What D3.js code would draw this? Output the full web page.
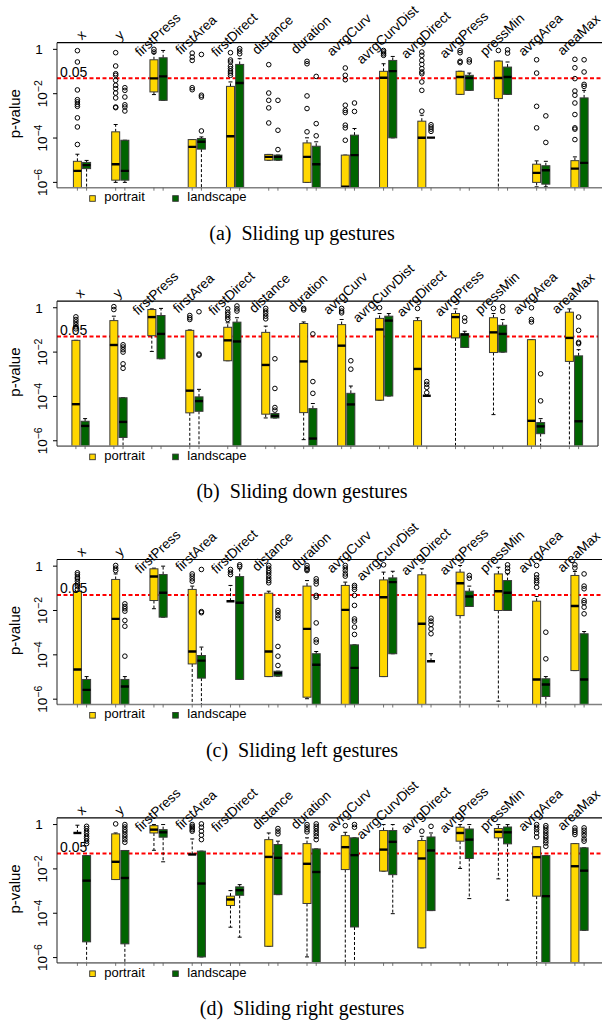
<!DOCTYPE html>
<html lang="en">
<head>
<meta charset="UTF-8">
<title>Sliding gestures p-values</title>
<script src="https://d3js.org/d3.v7.min.js"></script>
<style>
  body { margin: 0; padding: 0; background: #fff; }
  svg { display: block; font-family: "Liberation Sans", Arial, sans-serif; }
  .caption { font-family: "Liberation Serif", "Times New Roman", serif; white-space: pre; }
</style>
</head>
<body>
<div id="chart"></div>
<script>
// feature names along the x axis
const features = ["x", "y", "firstPress", "firstArea", "firstDirect", "distance", "duration",
  "avrgCurv", "avrgCurvDist", "avrgDirect", "avrgPress", "pressMin", "avrgArea", "areaMax"];
const orientations = ["portrait", "landscape"];
const captions = ["(a)  Sliding up gestures", "(b)  Sliding down gestures",
  "(c)  Sliding left gestures", "(d)  Sliding right gestures"];
const yTicks = [1, 1e-2, 1e-4, 1e-6];
const threshold = 0.05;

// box stats as log10(p): [whiskerLow, q1, median, q3, whiskerHigh]; outliers as log10(p)
const upPortrait = [
  [-7, -7, -5.48, -5.05, -4.73], [-6.0, -5.9, -5.18, -3.72, -3.39], [-2.04, -1.92, -1.31, -0.47, -0.17],
  [-7, -7, -4.4, -4.07, -4.07], [-7, -7, -3.92, -1.67, -1.47], [-5.0, -5.0, -4.85, -4.74, -4.74],
  [-6.0, -6.0, -4.85, -4.22, -3.99], [-7, -7, -6.2, -4.77, -4.77], [-7, -7, -1.28, -0.99, -0.65],
  [-7, -7, -3.99, -3.24, -2.97], [-2.03, -2.03, -1.25, -0.99, -0.99], [-7, -2.22, -1.29, -0.53, -0.53],
  [-6.2, -6.0, -5.57, -5.18, -5.03], [-7, -7, -5.38, -5.02, -4.85]];
const upPortraitOut = [
  [-0.06, -0.57, -1.83, -2.27, -2.37, -2.48, -2.57, -3.09, -3.5, -4.29],
  [-0.15, -0.75, -1.1, -1.17, -1.4, -1.62, -1.77, -1.97, -2.19, -2.6, -2.63],
  [0, -0.12], [-0.17, -0.35, -0.5, -1.73, -1.82],
  [-0.15, -0.48, -0.57, -0.76, -0.87, -0.98, -1.07, -1.17],
  [-0.69, -1.97, -2.3, -2.64, -3.32], [-0.54, -0.65, -2.1, -2.67, -3.72],
  [-0.84, -1.17, -1.37, -2.52, -2.75, -2.85, -3.42, -3.54, -4.1],
  [-0.05, -0.12, -0.2, -0.27],
  [-0.12, -0.27, -0.5, -0.68, -0.87, -1.02, -1.1, -1.47, -1.85, -2.79],
  [-0.05, -0.15, -0.54, -0.6], [-0.05], [-0.47, -1.07, -2.57, -3.54],
  [-0.45, -0.83, -1.32, -1.88, -2.07, -2.42, -2.94, -3.54, -3.6, -4.07]];
const upLandscape = [
  [-7, -5.38, -5.22, -5.1, -5.01], [-6.0, -5.9, -5.48, -4.1, -4.1], [-2.3, -2.3, -1.22, -0.38, -0.05],
  [-7, -4.5, -4.17, -4.02, -3.95], [-7, -7, -1.52, -0.68, -0.42], [-5.0, -5.0, -4.85, -4.77, -4.77],
  [-7, -7, -5.18, -4.37, -4.17], [-7, -7, -4.77, -3.87, -3.57], [-3.99, -3.99, -0.98, -0.5, -0.32],
  [-3.98, -3.98, -3.98, -3.98, -3.98], [-1.85, -1.85, -1.29, -1.17, -1.07], [-2.03, -2.03, -1.25, -0.8, -0.57],
  [-6.2, -6.08, -5.45, -5.25, -5.05], [-7, -7, -5.12, -2.19, -1.85]];
const upLandscapeOut = [
  [], [-1.73, -1.85, -2.15, -2.5, -2.6, -2.78], [], [-0.23, -2.07, -2.15, -3.68],
  [0.03, -0.08, -0.2], [-2.3, -3.65, -4.52], [-1.22, -3.35, -3.9], [-2.42, -2.8], [],
  [-3.4, -3.5, -3.6, -3.7], [-0.47, -0.57], [-0.02, -0.17], [-3.0, -4.2],
  [-0.47, -1.02, -1.58, -1.67]];

const downPortrait = [
  [-7, -7, -4.35, -1.47, -1.47], [-7, -7, -1.68, -0.58, -0.38], [-1.97, -1.26, -0.42, -0.08, -0.05],
  [-7, -4.74, -3.74, -1.02, -1.0], [-2.39, -2.39, -1.47, -0.88, -0.68], [-4.97, -4.8, -2.58, -1.11, -0.83],
  [-5.95, -4.73, -2.42, -0.71, -0.64], [-7, -7, -1.71, -0.76, -0.53], [-4.17, -4.17, -0.98, -0.48, -0.26],
  [-7, -7, -2.76, -0.58, -0.45], [-7, -1.36, -0.42, -0.26, -0.05], [-4.82, -2.02, -1.11, -0.45, -0.26],
  [-7, -7, -5.1, -1.44, -1.44], [-7, -2.42, -1.36, -0.2, -0.05]];
const downPortraitOut = [
  [-0.41, -0.53, -0.64, -0.76, -0.86, -0.95], [0.05, -0.08], [], [-0.35, -0.45, -0.53],
  [-0.05, -0.2, -0.3, -0.42, -0.53], [-0.03, -0.15, -0.26, -0.38, -0.5], [-0.03, -0.1],
  [-0.03, -0.15, -0.23], [0], [-0.03], [], [-0.03], [0, -0.53, -0.64], []];
const downLandscape = [
  [-7, -7, -5.33, -5.12, -5.0], [-7, -5.85, -5.15, -4.06, -4.06], [-2.3, -2.3, -1.18, -0.35, -0.03],
  [-7, -4.67, -4.21, -4.02, -3.68], [-7, -7, -1.52, -0.65, -0.45], [-4.97, -4.97, -4.88, -4.77, -4.77],
  [-7, -7, -5.9, -4.55, -4.32], [-7, -7, -4.36, -3.86, -3.53], [-3.98, -3.98, -0.58, -0.38, -0.26],
  [-3.97, -3.97, -3.97, -3.97, -3.97], [-1.79, -1.79, -1.21, -1.17, -1.06], [-2.0, -2.0, -1.18, -0.79, -0.53],
  [-7, -5.68, -5.35, -5.18, -5.0], [-7, -7, -5.12, -2.17, -1.89]];
const downLandscapeOut = [
  [], [-1.67, -1.77, -1.89, -2.0, -2.53, -2.73], [], [-0.18, -2.09, -2.14], [0.08, -0.05, -0.15],
  [-2.3, -3.64, -4.5, -4.62], [-1.18, -3.33, -3.86], [-2.39, -2.77], [],
  [-3.33, -3.45, -3.59, -3.83], [-0.45, -0.61], [0.05, -0.15], [-2.98, -4.2],
  [-0.42, -1.02, -1.56, -1.62]];

const leftPortrait = [
  [-7, -7, -4.66, -1.14, -1.14], [-7, -7, -2.38, -0.6, -0.35], [-1.92, -1.55, -0.47, -0.12, -0.09],
  [-7, -4.41, -3.85, -1.05, -0.9], [-1.58, -1.58, -1.58, -1.58, -0.87], [-4.98, -4.98, -3.85, -1.22, -1.13],
  [-5.98, -5.91, -2.83, -0.9, -0.65], [-7, -7, -1.97, -0.87, -0.72], [-4.98, -4.98, -1.4, -0.62, -0.27],
  [-7, -7, -2.6, -0.39, -0.12], [-7, -2.23, -0.77, -0.27, 0.03], [-6.09, -2.0, -1.13, -0.35, -0.05],
  [-7, -7, -5.11, -1.58, -1.37], [-4.71, -4.71, -1.8, -0.42, -0.24]];
const leftPortraitOut = [
  [-0.3, -0.39, -0.5, -0.57, -0.68, -0.8, -0.9, -1.05], [0.03, -0.09, -0.2], [],
  [-0.35, -0.45, -0.57, -0.68], [-0.15, -0.27, -0.38],
  [0.03, -0.09, -0.2, -0.3, -0.42, -0.54, -0.65, -0.75], [0.03, -0.08, -0.15, -0.2],
  [0.03, -0.08, -0.2, -0.35, -0.45], [0.06], [], [], [],
  [0.03, -0.39, -0.53, -0.65, -0.75, -0.95], [0.06, -0.08]];
const leftLandscape = [
  [-7, -7, -5.58, -5.11, -4.98], [-7, -7, -5.43, -5.11, -4.98], [-2.3, -2.3, -1.2, -0.38, 0],
  [-7, -5.05, -4.26, -4.03, -3.65], [-5.11, -5.11, -1.65, -0.47, -0.12], [-4.96, -4.96, -4.83, -4.74, -4.74],
  [-7, -7, -4.45, -3.95, -3.85], [-7, -7, -4.59, -3.55, -3.55], [-3.95, -3.95, -0.72, -0.53, -0.23],
  [-4.29, -4.29, -4.29, -4.29, -3.95], [-1.82, -1.82, -1.37, -1.13, -0.9], [-2.0, -2.0, -1.2, -0.65, -0.35],
  [-7, -5.88, -5.34, -5.08, -4.98], [-7, -7, -5.11, -3.05, -2.95]];
const leftLandscapeOut = [
  [], [-1.7, -1.82, -1.92, -2.03, -2.45, -2.71, -4.06], [], [-0.15, -2.05, -2.1], [0.06, -0.02],
  [-2.0, -2.1, -2.23, -2.35, -3.62, -4.06, -4.48],
  [-0.57, -0.68, -0.8, -1.32, -1.4, -2.56, -3.32, -3.43],
  [-0.87, -0.95, -1.05, -1.32, -1.77, -2.38, -2.48, -2.75, -3.08], [],
  [-2.35, -2.48, -2.63, -2.83, -3.05], [-0.42, -0.54], [0.06, -0.09, -0.24], [-2.98, -4.18],
  [-0.35, -0.9, -1.02, -1.55, -1.65, -1.85, -2.15]];

const rightPortrait = [
  [-0.38, -0.38, -0.38, -0.38, -0.03], [-2.48, -2.48, -1.68, -0.42, -0.38], [-1.16, -0.38, -0.23, -0.05, 0],
  [-1.35, -1.35, -1.35, -1.35, -0.65], [-4.63, -3.65, -3.38, -3.23, -2.98], [-5.49, -5.49, -1.46, -0.68, -0.38],
  [-5.97, -3.56, -1.77, -0.86, -0.6], [-7, -2.03, -1.02, -0.5, -0.35], [-2.1, -2.1, -1.13, -0.27, 0],
  [-5.56, -5.56, -1.53, -0.72, -0.53], [-1.98, -0.75, -0.38, -0.12, 0], [-2.45, -0.6, -0.33, -0.18, 0],
  [-7, -3.23, -1.47, -1.0, -1.0], [-7, -7, -1.88, -0.86, -0.86]];
const rightPortraitOut = [
  [], [0.03], [], [0, -0.08, -0.15, -0.23, -0.3], [], [], [0, -0.11, -0.23, -0.33], [-0.05], [],
  [-0.3], [], [], [0, -0.12, -0.23, -0.38, -0.56], [-0.15, -0.26, -0.35, -0.45]];
const rightLandscape = [
  [-7, -5.29, -2.53, -1.4, -1.4], [-7, -5.38, -2.41, -1.17, -1.17], [-1.68, -0.57, -0.35, -0.23, 0],
  [-5.97, -5.97, -2.66, -1.2, -1.2], [-5.08, -3.19, -2.96, -2.81, -2.71], [-3.16, -3.16, -1.5, -0.9, -0.75],
  [-7, -7, -2.14, -1.1, -1.1], [-7, -4.62, -1.38, -0.6, -0.6], [-4.02, -2.26, -0.78, -0.27, 0],
  [-3.88, -3.88, -1.17, -0.56, -0.38], [-3.34, -1.53, -0.68, -0.2, 0], [-3.41, -0.87, -0.35, -0.11, 0],
  [-7, -7, -3.23, -1.4, -1.4], [-4.77, -4.77, -2.08, -1.05, -1.05]];
const rightLandscapeOut = [
  [-0.08, -0.18, -0.3, -0.41, -0.53, -0.63, -0.75, -0.86],
  [0, -0.11, -0.23, -0.33, -0.45, -0.56, -0.68, -0.8], [], [0.03, -0.12, -0.3, -0.48, -0.68], [],
  [-0.18, -0.3, -0.42], [0.03, -0.08, -0.18, -0.3, -0.41, -0.53, -0.68], [0, -0.12], [], [-0.08], [], [],
  [-0.05, -0.15, -0.27, -0.38, -0.5, -0.6, -0.72, -0.83, -0.98],
  [-0.15, -0.26, -0.38, -0.5, -0.65, -0.75]];

const panels = [
  { boxes: [upPortrait, upLandscape], outs: [upPortraitOut, upLandscapeOut] },
  { boxes: [downPortrait, downLandscape], outs: [downPortraitOut, downLandscapeOut] },
  { boxes: [leftPortrait, leftLandscape], outs: [leftPortraitOut, leftLandscapeOut] },
  { boxes: [rightPortrait, rightLandscape], outs: [rightPortraitOut, rightLandscapeOut] }
];

const colors = { portrait: "#FFD700", landscape: "#006400" };

var W = 602, H = 1022;
var svg = d3.select("#chart").append("svg").attr("width", W).attr("height", H);

var left = 57, plotH = 145, firstTop = 42.7, step = 258.4;
var rightEdge = [610, 598, 610, 610];
var centerRange = [[82, 579.5], [80.5, 574], [82, 579.5], [82, 579.5]];
var boxW = 8;

panels.forEach(function(p, pi) {
  var top = firstTop + pi * step;
  var g = svg.append("g");

  var x = d3.scalePoint().domain(features).range(centerRange[pi]);
  var xo = d3.scalePoint().domain(orientations).range([-4.6, 4.6]);
  var y = d3.scaleLog().domain([Math.pow(10, -6.24), Math.pow(10, 0.3)]).range([top + plotH, top]);
  var yv = function(v) { return y(Math.pow(10, v)); };

  var clipId = "clip" + pi;
  svg.append("clipPath").attr("id", clipId).append("rect")
    .attr("x", left).attr("y", top - 6).attr("width", rightEdge[pi] - left).attr("height", plotH + 6);

  var plot = g.append("g").attr("clip-path", "url(#" + clipId + ")");

  // red threshold line
  plot.append("line")
    .attr("x1", left).attr("x2", rightEdge[pi])
    .attr("y1", y(threshold)).attr("y2", y(threshold))
    .attr("stroke", "#ff0000").attr("stroke-width", 2).attr("stroke-dasharray", "4,2.5");

  orientations.forEach(function(o, oi) {
    var stats = p.boxes[oi], outs = p.outs[oi];
    features.forEach(function(f, fi) {
      var s = stats[fi];
      var cx = x(f) + xo(o);
      var bg = plot.append("g");
      // whiskers
      bg.append("line").attr("x1", cx).attr("x2", cx).attr("y1", yv(s[3])).attr("y2", yv(s[4]))
        .attr("stroke", "#000").attr("stroke-width", 1).attr("stroke-dasharray", "3,2");
      bg.append("line").attr("x1", cx).attr("x2", cx).attr("y1", yv(s[1])).attr("y2", yv(s[0]))
        .attr("stroke", "#000").attr("stroke-width", 1).attr("stroke-dasharray", "3,2");
      // staples
      [s[0], s[4]].forEach(function(v) {
        bg.append("line").attr("x1", cx - boxW / 4).attr("x2", cx + boxW / 4)
          .attr("y1", yv(v)).attr("y2", yv(v)).attr("stroke", "#000").attr("stroke-width", 1);
      });
      // box
      bg.append("rect").attr("x", cx - boxW / 2).attr("width", boxW)
        .attr("y", yv(s[3])).attr("height", Math.max(0, yv(s[1]) - yv(s[3])))
        .attr("fill", colors[o]).attr("stroke", "#3a3a3a").attr("stroke-width", 1);
      // median
      bg.append("line").attr("x1", cx - boxW / 2).attr("x2", cx + boxW / 2)
        .attr("y1", yv(s[2])).attr("y2", yv(s[2])).attr("stroke", "#000").attr("stroke-width", 2.4);
      // outliers
      bg.selectAll("circle").data(outs[fi]).enter().append("circle")
        .attr("cx", cx).attr("cy", function(d) { return yv(d); }).attr("r", 2.3)
        .attr("fill", "none").attr("stroke", "#000").attr("stroke-width", 1);
    });
  });

  // frame
  g.append("line").attr("x1", left).attr("x2", rightEdge[pi]).attr("y1", top).attr("y2", top)
    .attr("stroke", "#000").attr("stroke-width", 1.2);
  g.append("line").attr("x1", left).attr("x2", rightEdge[pi]).attr("y1", top + plotH).attr("y2", top + plotH)
    .attr("stroke", "#808080").attr("stroke-width", 1.6);
  g.append("line").attr("x1", left).attr("x2", left).attr("y1", top).attr("y2", top + plotH)
    .attr("stroke", "#222").attr("stroke-width", 1);
  if (rightEdge[pi] < W) {
    g.append("line").attr("x1", rightEdge[pi]).attr("x2", rightEdge[pi]).attr("y1", top).attr("y2", top + plotH)
      .attr("stroke", "#333").attr("stroke-width", 1.2);
  }

  // bottom ticks at each box position
  orientations.forEach(function(o) {
    features.forEach(function(f) {
      g.append("line").attr("x1", x(f) + xo(o)).attr("x2", x(f) + xo(o))
        .attr("y1", top + plotH).attr("y2", top + plotH + 3).attr("stroke", "#555").attr("stroke-width", 0.8);
    });
  });

  // y axis ticks and labels
  yTicks.forEach(function(t) {
    var ty = y(t);
    g.append("line").attr("x1", left - 4).attr("x2", left).attr("y1", ty).attr("y2", ty)
      .attr("stroke", "#000").attr("stroke-width", 1);
    if (t === 1) {
      g.append("text").attr("x", 39).attr("y", ty).attr("dy", "0.36em")
        .attr("text-anchor", "middle").attr("font-size", 13.5).text("1");
    } else {
      var e = Math.round(Math.log10(t));
      var tx = g.append("text").attr("transform", "translate(47," + ty + ") rotate(-90)")
        .attr("text-anchor", "middle").attr("font-size", 13.5);
      tx.append("tspan").text("10");
      tx.append("tspan").attr("font-size", 10.5).attr("dy", "-0.5em").text(String(e).replace("-", "\u2212"));
    }
  });

  g.append("text").attr("transform", "translate(20," + (top + 71) + ") rotate(-90)")
    .attr("text-anchor", "middle").attr("font-size", 15).text("p-value");

  g.append("text").attr("x", 60).attr("y", y(threshold) - 1.5)
    .attr("font-size", 14).text("0.05");

  // feature labels
  features.forEach(function(f) {
    var lx = x(f) - 1, ly = top - 8;
    g.append("text").attr("transform", "translate(" + lx + "," + ly + ") rotate(-43)")
      .attr("text-anchor", "middle").attr("dy", "0.35em").attr("font-size", 13.5).text(f);
  });

  // legend
  var lg = g.append("g");
  [[92.5, 104.3], [175.5, 187.3]].forEach(function(pos, i) {
    var o = orientations[i];
    lg.append("rect").attr("x", pos[0] - 2.8).attr("y", top + 155.8 - 2.8).attr("width", 5.6).attr("height", 5.6)
      .attr("fill", colors[o]).attr("stroke", "#333").attr("stroke-width", 0.9);
    lg.append("text").attr("x", pos[1]).attr("y", top + 158.6).attr("font-size", 13).text(o);
  });

  // caption
  g.append("text").attr("class", "caption").attr("x", 302).attr("y", top + 197.3)
    .attr("text-anchor", "middle").attr("font-size", 20).text(captions[pi]);
});
</script>
</body>
</html>
